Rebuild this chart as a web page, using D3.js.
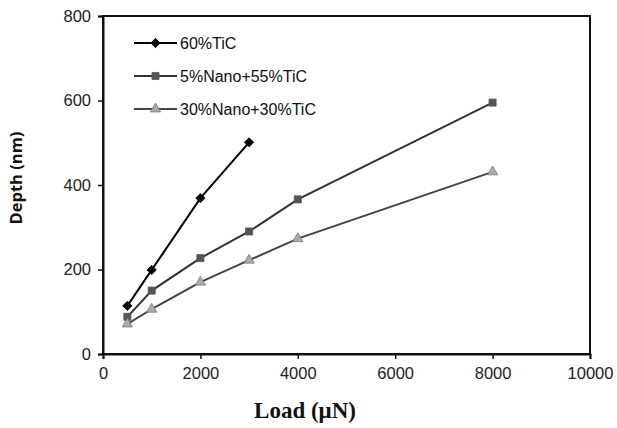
<!DOCTYPE html>
<html><head><meta charset="utf-8">
<script src="https://cdn.jsdelivr.net/npm/d3@7"></script>
<style>body{margin:0;background:#fff;}svg{display:block;}</style>
</head><body>
<script>
const loads1 = [500, 1000, 2000, 3000];
const tic60 = [114, 199, 369, 501];
const loads2 = [500, 1000, 2000, 3000, 4000, 8000];
const nano5 = [88, 150, 227, 290, 366, 595];
const loads3 = [500, 1000, 2000, 3000, 4000, 8000];
const nano30 = [71, 106, 170, 222, 273, 431];
const seriesNames = ["60%TiC", "5%Nano+55%TiC", "30%Nano+30%TiC"];
const xTicks = [0, 2000, 4000, 6000, 8000, 10000];
const yTicks = [0, 200, 400, 600, 800];

const W = 617, H = 428;
const m = {l: 103, r: 27, t: 16, b: 74};
const svg = d3.select("body").append("svg").attr("width", W).attr("height", H);
const x = d3.scaleLinear().domain([0, 10000]).range([m.l, W - m.r]);
const y = d3.scaleLinear().domain([0, 800]).range([H - m.b, m.t]);

svg.append("rect").attr("x", m.l).attr("y", m.t).attr("width", W - m.r - m.l).attr("height", H - m.b - m.t)
  .attr("fill", "none").attr("stroke", "#111").attr("stroke-width", 2);

const xa = svg.append("g").attr("transform", `translate(0,${H - m.b})`)
  .call(d3.axisBottom(x).tickValues(xTicks).tickSize(5).tickPadding(8).tickFormat(d3.format("d")));
const ya = svg.append("g").attr("transform", `translate(${m.l},0)`)
  .call(d3.axisLeft(y).tickValues(yTicks).tickSize(5).tickPadding(7).tickFormat(d3.format("d")));
[xa, ya].forEach(a => {
  a.select(".domain").attr("stroke", "#111").attr("stroke-width", 2);
  a.selectAll(".tick line").attr("stroke", "#111").attr("stroke-width", 1.5);
  a.selectAll("text").attr("font-family", "Liberation Sans, Arial, sans-serif").attr("font-size", 16.5).attr("fill", "#222");
});

const series = [
  {name: seriesNames[0], xs: loads1, ys: tic60, line: "#000", fill: "#000", shape: d3.symbolDiamond2, size: 55},
  {name: seriesNames[1], xs: loads2, ys: nano5, line: "#333", fill: "#555", shape: d3.symbolSquare, size: 50},
  {name: seriesNames[2], xs: loads3, ys: nano30, line: "#444", fill: "#aaa", shape: d3.symbolTriangle, size: 45}
];
const line = d3.line().x(d => x(d[0])).y(d => y(d[1]));
series.forEach(s => {
  const pts = s.xs.map((v, i) => [v, s.ys[i]]);
  svg.append("path").datum(pts).attr("d", line).attr("fill", "none").attr("stroke", s.line).attr("stroke-width", 2);
  svg.selectAll(null).data(pts).enter().append("path")
    .attr("d", d3.symbol().type(s.shape).size(s.size))
    .attr("transform", d => `translate(${x(d[0])},${y(d[1])})`)
    .attr("fill", s.fill).attr("stroke", s.fill === "#aaa" ? "#777" : s.fill).attr("stroke-width", 0.8);
});

// legend
const legY = [43, 76, 109];
series.forEach((s, i) => {
  const g = svg.append("g").attr("transform", `translate(0,${legY[i]})`);
  g.append("line").attr("x1", 134).attr("x2", 177).attr("y1", 0).attr("y2", 0).attr("stroke", s.line).attr("stroke-width", 2);
  g.append("path").attr("d", d3.symbol().type(s.shape).size(s.size)).attr("transform", "translate(155.5,0)")
    .attr("fill", s.fill).attr("stroke", s.fill === "#aaa" ? "#777" : s.fill).attr("stroke-width", 0.8);
  g.append("text").attr("x", 180).attr("y", 6).text(s.name)
    .attr("font-family", "Liberation Sans, Arial, sans-serif").attr("font-size", 16).attr("fill", "#111");
});

svg.append("text").attr("x", 305).attr("y", 418).attr("text-anchor", "middle")
  .attr("font-family", "Liberation Serif, Times New Roman, serif").attr("font-weight", "bold").attr("font-size", 23)
  .attr("fill", "#111").text("Load (μN)");
svg.append("text").attr("transform", `translate(22,178) rotate(-90)`).attr("text-anchor", "middle")
  .attr("font-family", "Open Sans, Liberation Sans, Arial, sans-serif").attr("font-weight", "bold").attr("font-size", 16.5)
  .attr("fill", "#111").text("Depth (nm)");
</script>
</body></html>
